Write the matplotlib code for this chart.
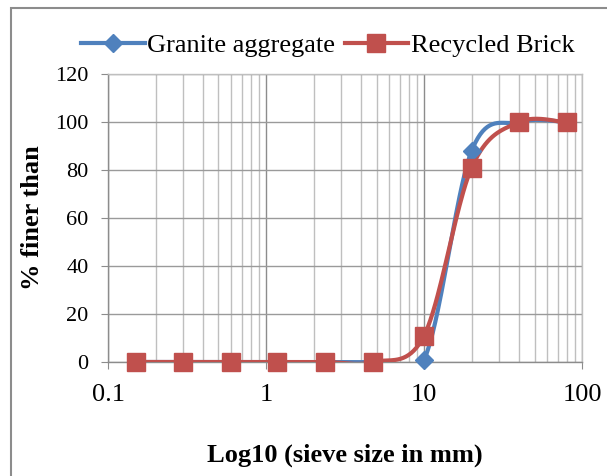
import numpy as np
import matplotlib
matplotlib.use("Agg")
import matplotlib.pyplot as plt
from matplotlib.patches import Rectangle

# sieve sizes (mm) and percent passing
sieve = [0.15, 0.3, 0.6, 1.18, 2.36, 4.75, 10, 20, 40, 80]
granite = [0, 0, 0, 0, 0, 0, 1, 88, 100, 100]
brick = [0, 0, 0, 0, 0, 0, 11, 81, 100, 99.8]

blue = "#4F81BD"
red = "#C0504D"

plt.rcParams["font.family"] = ["Liberation Serif", "DejaVu Serif"]


def smooth(xs, ys, n=40):
    # Excel-style smoothed line (Catmull-Rom) in log-x space
    lx = np.log10(xs)
    ys = np.asarray(ys, float)
    px = np.concatenate([[lx[0]], lx, [lx[-1]]])
    py = np.concatenate([[ys[0]], ys, [ys[-1]]])
    outx, outy = [], []
    t = np.linspace(0, 1, n)
    for i in range(1, len(px) - 2):
        p0, p1, p2, p3 = px[i - 1], px[i], px[i + 1], px[i + 2]
        q0, q1, q2, q3 = py[i - 1], py[i], py[i + 1], py[i + 2]
        c1x, c1y = p1 + (p2 - p0) / 6, q1 + (q2 - q0) / 6
        c2x, c2y = p2 - (p3 - p1) / 6, q2 - (q3 - q1) / 6
        bx = (1 - t) ** 3 * p1 + 3 * (1 - t) ** 2 * t * c1x + 3 * (1 - t) * t ** 2 * c2x + t ** 3 * p2
        by = (1 - t) ** 3 * q1 + 3 * (1 - t) ** 2 * t * c1y + 3 * (1 - t) * t ** 2 * c2y + t ** 3 * q2
        outx.extend(bx)
        outy.extend(by)
    return 10 ** np.array(outx), np.array(outy)


fig = plt.figure(figsize=(6.07, 4.76), dpi=100)
ax = fig.add_axes([0.178, 0.2395, 0.781, 0.605])

# outer chart frame (only top/left visible in the crop)
fig.patches.append(Rectangle((11 / 607, -0.05), 1.1, 1 - 8 / 476 + 0.05, transform=fig.transFigure,
                             fill=False, edgecolor="#8c8c8c", linewidth=1.5))

for ys, col, mk, ms, lab in [(granite, blue, "D", 9, "Granite aggregate"),
                             (brick, red, "s", 13, "Recycled Brick")]:
    sx, sy = smooth(sieve, ys)
    ax.plot(sx, sy, color=col, linewidth=3, zorder=3)
    ax.plot(sieve, ys, linestyle="none", marker=mk, markersize=ms, color=col, zorder=4, clip_on=False)
    ax.plot([], [], color=col, linewidth=3, marker=mk, markersize=ms, label=lab)

ax.set_xscale("log")
ax.set_xlim(0.1, 100)
ax.set_ylim(0, 120)
ax.set_yticks(range(0, 121, 20))
ax.set_xticks([0.1, 1, 10, 100])
ax.set_xticklabels(["0.1", "1", "10", "100"])

ax.grid(True, which="major", axis="both", color="#8c8c8c", linewidth=1)
ax.grid(True, which="minor", axis="x", color="#bfbfbf", linewidth=1)
ax.yaxis.grid(True, color="#9a9a9a")
for s in ax.spines.values():
    s.set_color("#8c8c8c")
    s.set_linewidth(1)
ax.spines["top"].set_color("#bfbfbf")
ax.spines["right"].set_color("#bfbfbf")

ax.tick_params(axis="y", which="major", direction="out", length=5, color="#8c8c8c",
               labelsize=16, pad=9)
ax.tick_params(axis="x", which="major", direction="out", length=5, color="#8c8c8c",
               labelsize=19, pad=11)
ax.tick_params(axis="x", which="minor", length=0)

ax.set_xlabel("Log10 (sieve size in mm)", fontsize=19, fontweight="bold", labelpad=27)
ax.set_ylabel("% finer than", fontsize=19, fontweight="bold", labelpad=8)

fig.legend(loc="center", bbox_to_anchor=(0.54, 0.905), ncol=2, frameon=False,
           fontsize=19, handlelength=2.4, handletextpad=0.1, columnspacing=0.35)

fig.savefig("out.png", dpi=100)
